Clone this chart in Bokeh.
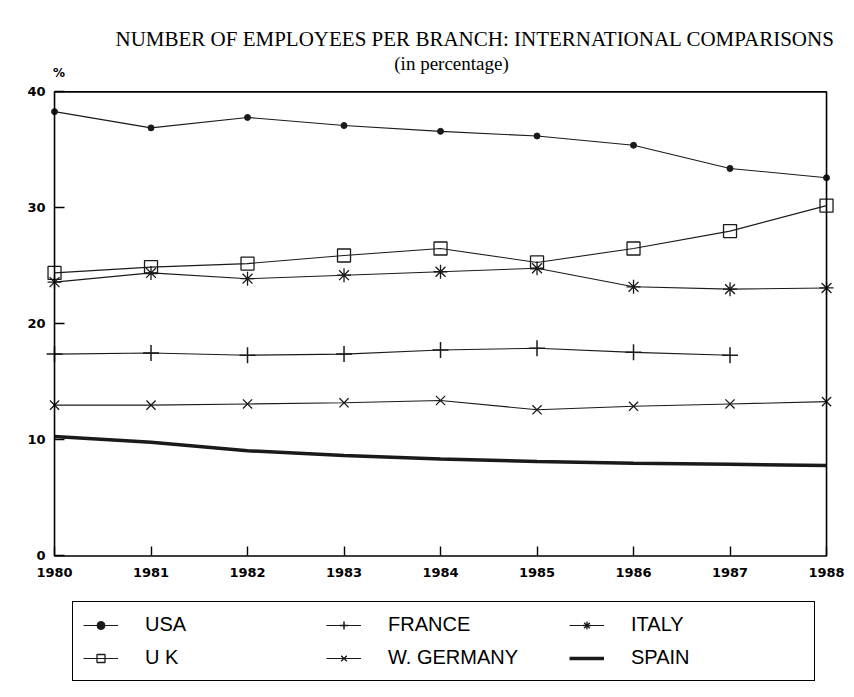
from bokeh.plotting import figure
from bokeh.models import (Legend, LegendItem, Title, FixedTicker, Range1d,
                          BoxAnnotation, Label)
from bokeh.embed import file_html
from bokeh.resources import INLINE

# ---- data ----
years = [1980, 1981, 1982, 1983, 1984, 1985, 1986, 1987, 1988]
usa = [38.3, 36.9, 37.8, 37.1, 36.6, 36.2, 35.4, 33.4, 32.6]
uk = [24.4, 24.9, 25.2, 25.9, 26.5, 25.3, 26.5, 28.0, 30.2]
italy = [23.6, 24.4, 23.9, 24.2, 24.5, 24.8, 23.2, 23.0, 23.1]
france_years = [1980, 1981, 1982, 1983, 1984, 1985, 1986, 1987]
france = [17.4, 17.5, 17.3, 17.4, 17.75, 17.9, 17.55, 17.3]
wgermany = [13.0, 13.0, 13.1, 13.2, 13.4, 12.6, 12.9, 13.1, 13.3]
spain = [10.3, 9.8, 9.07, 8.66, 8.35, 8.15, 8.0, 7.9, 7.8]
y_ticks = [0, 10, 20, 30, 40]

title_text = "NUMBER OF EMPLOYEES PER BRANCH: INTERNATIONAL COMPARISONS"
subtitle_text = "(in percentage)"
unit_text = "%"

INK = "#1a1a1a"

# frame: 819 x 645 px; the 1980-1988 x 0-40 box sits inside it, with
# room for the tick labels, the subtitle and the legend
p = figure(frame_width=819, frame_height=645, title=None,
           x_range=Range1d(1979.72, 1988.207),
           y_range=Range1d(-12.03, 43.57),
           output_backend="svg", toolbar_location=None,
           min_border_left=27, min_border_right=8, min_border_top=50,
           min_border_bottom=0,
           background_fill_color="white", border_fill_color="white")

p.xgrid.visible = False
p.ygrid.visible = False
p.outline_line_color = None

# plot box
p.add_layout(BoxAnnotation(left=years[0], right=years[-1], bottom=y_ticks[0], top=y_ticks[-1],
                           fill_alpha=0, line_color="black", line_width=1.6, line_alpha=1.0))

for ax in (p.xaxis, p.yaxis):
    ax.axis_line_color = None
    ax.major_tick_line_color = "black"
    ax.major_tick_line_width = 1.4
    ax.major_tick_out = 0
    ax.minor_tick_in = 0
    ax.minor_tick_out = 0
    ax.major_label_text_font = "DejaVu Sans"
    ax.major_label_text_font_style = "bold"
    ax.major_label_text_font_size = "13px"
    ax.major_label_text_color = "black"

p.xaxis.ticker = FixedTicker(ticks=years)
p.xaxis.fixed_location = y_ticks[0]
p.xaxis.major_tick_in = 9
p.xaxis.major_label_standoff = 12
p.yaxis.ticker = FixedTicker(ticks=y_ticks)
p.yaxis.fixed_location = years[0]
p.yaxis.major_tick_in = 10
p.yaxis.major_label_standoff = 9

# ---- series ----
r_usa_l = p.line(years, usa, line_color=INK, line_width=1.1)
r_usa_m = p.scatter(years, usa, marker="circle", size=6, fill_color=INK, line_color=INK)

r_uk_l = p.line(years, uk, line_color=INK, line_width=1.1)
r_uk_m = p.scatter(years, uk, marker="square", size=13, fill_alpha=0, line_color=INK, line_width=1.3)

r_fr_l = p.line(france_years, france, line_color=INK, line_width=1.1)
r_fr_m = p.scatter(france_years, france, marker="cross", size=16, line_color=INK, line_width=1.5)

r_de_l = p.line(years, wgermany, line_color=INK, line_width=1.1)
r_de_m = p.scatter(years, wgermany, marker="x", size=13, line_color=INK, line_width=1.3)

r_it_l = p.line(years, italy, line_color=INK, line_width=1.1)
r_it_m = p.scatter(years, italy, marker="asterisk", size=14, line_color=INK, line_width=1.3)

r_es_l = p.line(years, spain, line_color=INK, line_width=3.5)

# ---- titles ----
p.add_layout(Title(text=title_text, align="left", offset=88, standoff=0,
                   text_font="Liberation Serif", text_font_style="normal",
                   text_font_size="21px", text_color="black"), "above")
p.add_layout(Label(x=1984.114, y=42.45, text=subtitle_text, text_font="Liberation Serif",
                   text_font_size="19px", text_align="center", text_baseline="middle",
                   text_color="black"))
p.add_layout(Label(x=years[0], y=41.67, x_offset=4.5, text=unit_text, text_font="DejaVu Sans",
                   text_font_style="bold", text_font_size="12px", text_align="center",
                   text_baseline="middle", text_color="black"))

# ---- legend inside the frame, under the box (row-wise fill, 3 columns) ----
items = [
    LegendItem(label="USA", renderers=[r_usa_l, r_usa_m]),
    LegendItem(label="FRANCE", renderers=[r_fr_l, r_fr_m]),
    LegendItem(label="ITALY", renderers=[r_it_l, r_it_m]),
    LegendItem(label="U K", renderers=[r_uk_l, r_uk_m]),
    LegendItem(label="W. GERMANY", renderers=[r_de_l, r_de_m]),
    LegendItem(label="SPAIN", renderers=[r_es_l]),
]
legend = Legend(items=items, orientation="horizontal", ncols=3, location=(45, 14),
                label_text_font="Liberation Sans", label_text_font_size="20px",
                label_text_color="black",
                glyph_width=35, glyph_height=20, label_standoff=27,
                label_width=173, label_height=25, spacing=8, padding=10,
                margin=0,
                border_line_color="black", border_line_width=1.5, border_line_alpha=1.0,
                background_fill_color="white", background_fill_alpha=1.0)
p.add_layout(legend)

open("out.html", "w").write(file_html(p, INLINE))
